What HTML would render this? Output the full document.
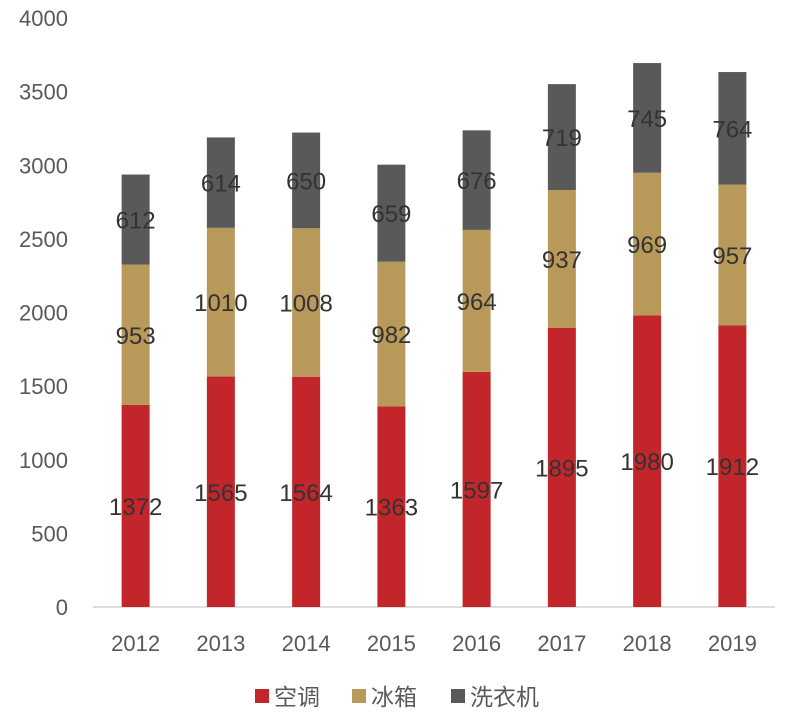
<!DOCTYPE html>
<html><head><meta charset="utf-8"><style>
body{margin:0;background:#fff;}
svg text{font-family:"Liberation Sans","Noto Sans CJK SC",sans-serif;}
</style></head><body>
<svg id="chart" width="800" height="720" viewBox="0 0 800 720" xmlns="http://www.w3.org/2000/svg"></svg>
<script>
const categories=["2012","2013","2014","2015","2016","2017","2018","2019"];
const acValues=[1372,1565,1564,1363,1597,1895,1980,1912];
const fridgeValues=[953,1010,1008,982,964,937,969,957];
const washerValues=[612,614,650,659,676,719,745,764];
const yTicks=[0,500,1000,1500,2000,2500,3000,3500,4000];
const seriesNames=["空调","冰箱","洗衣机"];
const colors=["#c3262a","#b8995a","#595959"];
const NS="http://www.w3.org/2000/svg";
const svg=document.getElementById('chart');
const x0=93,x1=775,y0=607,yTop=18,yMax=4000;
const band=(x1-x0)/categories.length,barW=28;
const yS=v=>y0-(v/yMax)*(y0-yTop);
const xC=i=>x0+band*(i+0.5);
function mk(tag,attrs,txt){const e=document.createElementNS(NS,tag);for(const k in attrs)e.setAttribute(k,attrs[k]);if(txt!==undefined)e.textContent=txt;svg.appendChild(e);return e;}
yTicks.forEach(t=>{
  const e=mk('text',{x:68,y:yS(t)+8,'text-anchor':'end','font-size':22,fill:'#595959'},t);
  
  
});
const ax=mk('line',{x1:x0,x2:x1,y1:y0,y2:y0,stroke:'#bfbfbf','stroke-width':1});


const series=[acValues,fridgeValues,washerValues];
categories.forEach((c,i)=>{
  let base=0;
  series.forEach((s,j)=>{
    const v=s[i];
    const r=mk('rect',{x:xC(i)-barW/2,y:yS(base+v),width:barW,height:yS(base)-yS(base+v),fill:colors[j]});
    
    
    const t=mk('text',{x:xC(i),y:yS(base+v/2)+9,'text-anchor':'middle','font-size':24,fill:'#333'},v);
    
    
    base+=v;
  });
  const xl=mk('text',{x:xC(i),y:651,'text-anchor':'middle','font-size':22,fill:'#595959'},c);
  
  
});
const lx=[255,352,451];
seriesNames.forEach((n,j)=>{
  const r=mk('rect',{x:lx[j],y:689,width:14,height:14,fill:colors[j]});
  
  
  const t=mk('text',{x:lx[j]+19,y:705,'font-size':23,fill:'#595959'},n);
  
  
});
</script>
</body></html>
